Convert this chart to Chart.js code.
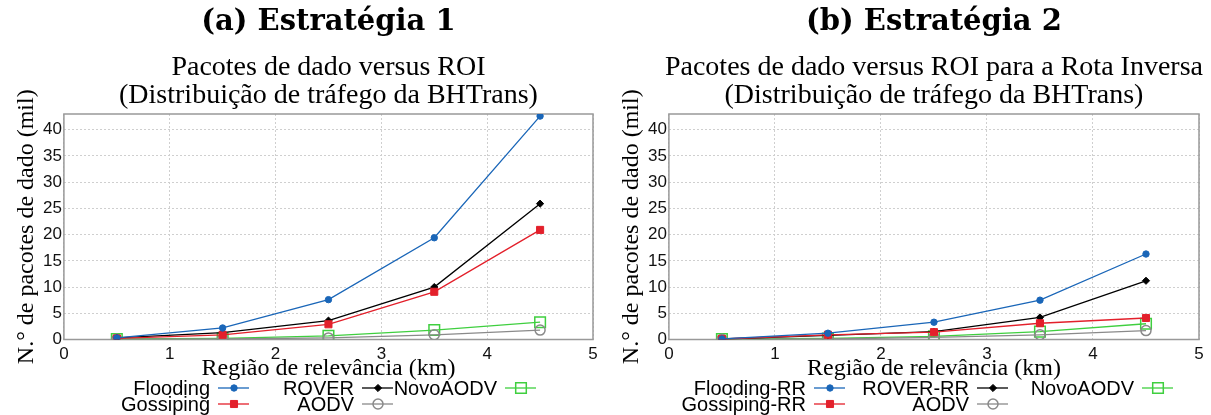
<!DOCTYPE html>
<html>
<head>
<meta charset="utf-8">
<script src="https://cdn.jsdelivr.net/npm/chart.js@4.4.0/dist/chart.umd.min.js"></script>
<style>
  html, body { margin: 0; padding: 0; background: #fff; }
  #wrap { position: relative; width: 1211px; height: 415px; }
  .box { position: absolute; top: 0; height: 415px; }
</style>
</head>
<body>
<div id="wrap">
  <div class="box" style="left:0;width:605px"><canvas id="chartA"></canvas></div>
  <div class="box" style="left:605px;width:606px"><canvas id="chartB"></canvas></div>
</div>
<script>
// shared axes
const roi = [0.5, 1.5, 2.5, 3.5, 4.5];
const xTicks = [0, 1, 2, 3, 4, 5];
const yTicks = [0, 5, 10, 15, 20, 25, 30, 35, 40];

// (a) Estrategia 1 - pacotes de dado (mil)
const floodingA  = [0.3, 2.2, 7.6, 19.4, 42.6];
const gossipingA = [0.2, 0.9, 2.9, 9.1, 20.9];
const roverA     = [0.3, 1.3, 3.6, 10.0, 25.9];
const aodvA      = [0.05, 0.1, 0.3, 0.9, 1.8];
const novoA      = [0.1, 0.2, 0.7, 1.8, 3.3];

// (b) Estrategia 2 - rota inversa
const floodingB  = [0.1, 1.2, 3.3, 7.5, 16.3];
const gossipingB = [0.1, 0.9, 1.4, 3.1, 4.1];
const roverB     = [0.1, 0.8, 1.5, 4.2, 11.2];
const aodvB      = [0.05, 0.1, 0.4, 0.9, 1.7];
const novoB      = [0.1, 0.2, 0.6, 1.5, 3.0];

const labelsA = ['Flooding', 'Gossiping', 'ROVER', 'AODV', 'NovoAODV'];
const labelsB = ['Flooding-RR', 'Gossiping-RR', 'ROVER-RR', 'AODV', 'NovoAODV'];
const xTitle = 'Região de relevância (km)';
const yTitle = 'N.° de pacotes de dado (mil)';

const BLUE = '#1a66b8', RED = '#e3202b', BLACK = '#000000', GRAY = '#8a8a8a', GREEN = '#3fcf3f';

function pts(vals){ return roi.map((x, i) => ({ x: x, y: vals[i] })); }

function series(label, vals, color, style, r, open){
  return {
    label: label, data: pts(vals),
    borderColor: color, borderWidth: 1.3,
    pointStyle: style, pointRadius: r, pointHoverRadius: r,
    pointBackgroundColor: open ? 'rgba(0,0,0,0)' : color,
    pointBorderColor: color, pointBorderWidth: open ? 1.5 : 1,
    tension: 0, fill: false
  };
}

// frame round the plot + titles + legend with sample to the right of the text
const decor = {
  id: 'decor',
  beforeDatasetsDraw(chart){
    const { ctx, chartArea: a } = chart;
    ctx.save();
    ctx.strokeStyle = '#999'; ctx.lineWidth = 1.5;
    ctx.strokeRect(a.left, a.top, a.right - a.left, a.bottom - a.top);
    ctx.restore();
  },
  afterDraw(chart, args, o){
    const { ctx, chartArea: a } = chart;
    const cx = (a.left + a.right) / 2;
    ctx.save();
    ctx.fillStyle = '#000';
    ctx.textAlign = 'center'; ctx.textBaseline = 'middle';
    ctx.font = 'bold 29px "DejaVu Serif"';
    ctx.fillText(o.head, cx, 22);
    ctx.font = '28px "Liberation Serif"';
    o.sub.forEach((t, i) => ctx.fillText(t, cx, 68 + 28 * i));
    ctx.font = '24px "Liberation Serif"';
    ctx.fillText(xTitle, cx, 369);

    ctx.font = '20px "Liberation Sans"';
    ctx.textAlign = 'right';
    chart.data.datasets.forEach((d, i) => {
      const [c, r] = o.slots[i];
      const xr = o.cols[c], y = 388 + 16 * r;
      ctx.fillStyle = '#000';
      ctx.fillText(d.label, xr, y + 1);
      ctx.strokeStyle = d.borderColor; ctx.lineWidth = 1.3;
      ctx.beginPath(); ctx.moveTo(xr + 8, y); ctx.lineTo(xr + 39, y); ctx.stroke();
      ctx.fillStyle = d.pointBackgroundColor;
      ctx.lineWidth = d.pointBorderWidth;
      Chart.helpers.drawPoint(ctx, { pointStyle: d.pointStyle, radius: d.pointRadius, borderWidth: d.pointBorderWidth, rotation: 0 }, xr + 24, y);
    });
    ctx.restore();
  }
};

function makeChart(id, labels, vals, head, sub, cols){
  const colors = [BLUE, RED, BLACK, GRAY, GREEN];
  const styles = [['circle', 3.2, false], ['rect', 5, false], ['rectRot', 3.6, false], ['circle', 5, true], ['rect', 7.5, true]];
  const datasets = labels.map((l, i) => series(l, vals[i], colors[i], styles[i][0], styles[i][1], styles[i][2]));
  return new Chart(document.getElementById(id), {
    type: 'line',
    data: { datasets: datasets },
    options: {
      responsive: true, maintainAspectRatio: false, animation: false,
      layout: { padding: { top: 114, bottom: 45.5, left: 0, right: 12 } },
      plugins: {
        legend: { display: false }, tooltip: { enabled: false },
        decor: { head: head, sub: sub, cols: cols, slots: [[0,0],[0,1],[1,0],[1,1],[2,0]] }
      },
      scales: {
        x: {
          type: 'linear', min: 0, max: 5,
          afterBuildTicks: s => { s.ticks = xTicks.map(v => ({ value: v })); },
          ticks: { color: '#111', padding: 6.5, maxRotation: 0, font: { family: 'Liberation Sans', size: 17, lineHeight: 1 } },
          grid: { color: '#cfcfcf', drawTicks: false },
          border: { display: false, dash: [2, 2] }
        },
        y: {
          min: 0, max: 43,
          afterBuildTicks: s => { s.ticks = yTicks.map(v => ({ value: v })); },
          ticks: { color: '#111', padding: 2, font: { family: 'Liberation Sans', size: 17, lineHeight: 1 } },
          grid: { color: '#cfcfcf', drawTicks: false },
          border: { display: false, dash: [2, 2] },
          title: { display: true, text: yTitle, color: '#000', padding: { top: 15, bottom: 2 },
                   font: { family: 'Liberation Serif', size: 24, lineHeight: 1 } }
        }
      }
    },
    plugins: [decor]
  });
}

makeChart('chartA', labelsA, [floodingA, gossipingA, roverA, aodvA, novoA],
  '(a) Estratégia 1',
  ['Pacotes de dado versus ROI', '(Distribuição de tráfego da BHTrans)'],
  [210, 354, 497]);

makeChart('chartB', labelsB, [floodingB, gossipingB, roverB, aodvB, novoB],
  '(b) Estratégia 2',
  ['Pacotes de dado versus ROI para a Rota Inversa', '(Distribuição de tráfego da BHTrans)'],
  [201, 364, 529]);
</script>
</body>
</html>
